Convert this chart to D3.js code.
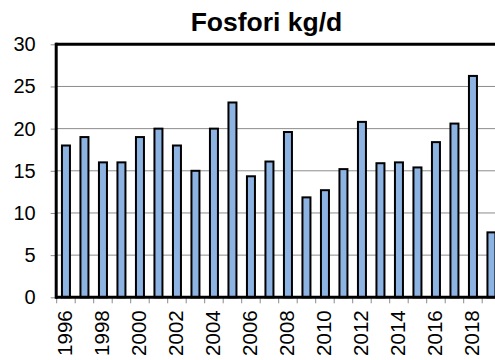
<!DOCTYPE html>
<html>
<head>
<meta charset="utf-8">
<script src="https://cdn.jsdelivr.net/npm/d3@7"></script>
<style>
  html, body { margin: 0; padding: 0; background: #fff; }
  svg { display: block; }
  text { font-family: "Liberation Sans", Arial, sans-serif; }
</style>
</head>
<body>
<script>
// Annual phosphorus load, kg per day
const years = ["1996","1997","1998","1999","2000","2001","2002","2003","2004","2005",
               "2006","2007","2008","2009","2010","2011","2012","2013","2014","2015",
               "2016","2017","2018","2019"];
const fosfori = [18.0, 19.0, 16.0, 16.0, 19.0, 20.0, 18.0, 15.0, 20.0, 23.1,
                 14.35, 16.1, 19.6, 11.85, 12.7, 15.2, 20.8, 15.9, 16.0, 15.4,
                 18.4, 20.6, 26.25, 7.7];
const yTicks = [0, 5, 10, 15, 20, 25, 30];
const titleText = "Fosfori kg/d";

const W = 495, H = 360;
const m = { left: 56.7, top: 44.3, right: 500.7, bottom: 297.3 };

const svg = d3.select("body").append("svg")
  .attr("width", W).attr("height", H);

const x = d3.scaleBand().domain(years).range([m.left, m.right]).padding(0);
const y = d3.scaleLinear().domain([0, 30]).range([m.bottom, m.top]);

// horizontal gridlines
svg.append("g").selectAll("line")
  .data(yTicks.filter(t => t > 0 && t < 30))
  .join("line")
  .attr("x1", m.left).attr("x2", m.right)
  .attr("y1", d => y(d)).attr("y2", d => y(d))
  .attr("stroke", "#8c8c8c").attr("stroke-width", 1);

// y axis: labels and short outer ticks
const yAxis = d3.axisLeft(y).tickValues(yTicks).tickSize(6).tickPadding(15);
const gy = svg.append("g").attr("transform", `translate(${m.left},0)`).call(yAxis);
gy.select(".domain").remove();
gy.selectAll(".tick line").attr("stroke", "#8c8c8c");
gy.selectAll(".tick text")
  .attr("font-size", 20).attr("fill", "#000")
  .attr("font-family", "Liberation Sans, Arial, sans-serif");

// bars
const barW = 8;
svg.append("g").selectAll("rect")
  .data(years.map((yr, i) => ({ yr, v: fosfori[i] })))
  .join("rect")
  .attr("x", d => x(d.yr) + x.bandwidth() / 2 - barW / 2)
  .attr("y", d => y(d.v))
  .attr("width", barW)
  .attr("height", d => y(0) - y(d.v))
  .attr("fill", "#8db3e2")
  .attr("stroke", "#000")
  .attr("stroke-width", 2);

// x axis ticks at category boundaries
const bounds = years.map(yr => x(yr));
svg.append("g").selectAll("line")
  .data(bounds)
  .join("line")
  .attr("x1", d => d).attr("x2", d => d)
  .attr("y1", m.bottom).attr("y2", m.bottom + 6)
  .attr("stroke", "#8c8c8c").attr("stroke-width", 1);

// x labels, every other year, rotated
svg.append("g").selectAll("text")
  .data(years.filter((d, i) => i % 2 === 0))
  .join("text")
  .attr("transform", d => `translate(${x(d) + x.bandwidth() / 2 + 6.5},${m.bottom + 13}) rotate(-90)`)
  .attr("text-anchor", "end")
  .attr("font-size", 20.5)
  .attr("fill", "#000")
  .text(d => d);

// plot frame: top, left and bottom lines
svg.append("line")
  .attr("x1", m.left - 1).attr("x2", m.right)
  .attr("y1", m.top).attr("y2", m.top)
  .attr("stroke", "#000").attr("stroke-width", 3);
svg.append("line")
  .attr("x1", m.left - 0.5).attr("x2", m.left - 0.5)
  .attr("y1", m.top - 1.5).attr("y2", m.bottom + 1.5)
  .attr("stroke", "#000").attr("stroke-width", 3);
svg.append("line")
  .attr("x1", m.left - 1).attr("x2", m.right)
  .attr("y1", m.bottom).attr("y2", m.bottom)
  .attr("stroke", "#000").attr("stroke-width", 3);

// title
svg.append("text")
  .attr("x", 266.5).attr("y", 30.5)
  .attr("text-anchor", "middle")
  .attr("font-size", 26.5)
  .attr("font-weight", "bold")
  .attr("fill", "#000")
  .text(titleText);
</script>
</body>
</html>
